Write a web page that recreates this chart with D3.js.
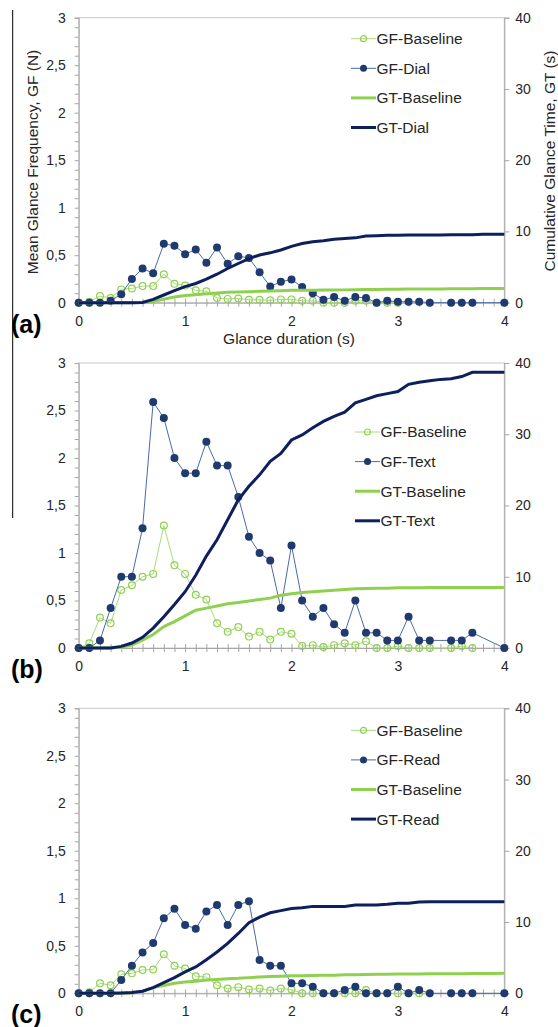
<!DOCTYPE html>
<html lang="en">
  <head>
    <meta charset="utf-8"/>
    <script src="https://d3js.org/d3.v7.min.js"></script>
    <title>Glance frequency and cumulative glance time</title>
  </head>
  <body>
    <div id="chart_div">
      <svg id="chart"></svg>
    </div>
  </body>

  <style>
    body { margin: 0; background: #fff; }
    svg { display: block; font-family: "Liberation Sans", Arial, sans-serif; }
  </style>

  <script>
    // glance duration bins (s)
    const duration = [0, 0.1, 0.2, 0.3, 0.4, 0.5, 0.6, 0.7, 0.8, 0.9,
                      1, 1.1, 1.2, 1.3, 1.4, 1.5, 1.6, 1.7, 1.8, 1.9,
                      2, 2.1, 2.2, 2.3, 2.4, 2.5, 2.6, 2.7, 2.8, 2.9,
                      3, 3.1, 3.2, 3.3, 3.4, 3.5, 3.6, 3.7, 3.8, 3.9, 4];

    const panelLabels = ["(a)", "(b)", "(c)"];
    const taskNames = ["Dial", "Text", "Read"];

    // panel (a)
    const gfBaselineA = [0, 0.01, 0.07, 0.05, 0.14, 0.15, 0.175, 0.175, 0.30, 0.20,
                         0.18, 0.13, 0.12, 0.05, 0.04, 0.045, 0.03, 0.03, 0.025, 0.035,
                         0.035, 0.02, 0.02, 0, 0, 0, 0.02, 0.02, 0, 0,
                         0, null, null, null, null, null, null, null, null, null, null];
    const gfDial = [0, 0, 0, 0.02, 0.09, 0.25, 0.36, 0.31, 0.62, 0.60,
                    0.51, 0.56, 0.42, 0.58, 0.41, 0.49, 0.47, 0.32, 0.17, 0.22,
                    0.245, 0.165, 0.10, 0.03, 0.06, 0.02, 0.06, 0.05, 0, 0.02,
                    0.01, 0.01, 0.01, 0, null, 0, 0, 0, null, null, 0];
    const gtBaselineA = [0, 0, 0, 0, 0, 0, 0.02, 0.15, 0.5, 0.8,
                         1.0, 1.1, 1.26, 1.36, 1.45, 1.5, 1.54, 1.6, 1.64, 1.68,
                         1.73, 1.75, 1.76, 1.77, 1.78, 1.8, 1.82, 1.84, 1.86, 1.88,
                         1.9, 1.91, 1.92, 1.93, 1.94, 1.95, 1.96, 1.97, 1.98, 1.99, 2.0];
    const gtDial = [0, 0, 0, 0, 0, 0, 0.03, 0.47, 1.08, 1.7,
                    2.25, 2.7, 3.3, 4.0, 4.8, 5.5, 6.2, 6.7, 7.0, 7.4,
                    7.9, 8.3, 8.56, 8.7, 8.9, 9.0, 9.1, 9.35, 9.4, 9.45,
                    9.45, 9.5, 9.5, 9.5, 9.5, 9.55, 9.55, 9.55, 9.6, 9.6, 9.6];

    // panel (b)
    const gfBaselineB = [0, 0.05, 0.32, 0.26, 0.61, 0.66, 0.75, 0.78, 1.29, 0.87,
                         0.78, 0.56, 0.51, 0.26, 0.17, 0.22, 0.12, 0.17, 0.09, 0.17,
                         0.15, 0.02, 0.03, 0.01, 0.03, 0.05, 0.03, 0.07, 0, 0,
                         0.02, 0, 0, 0, null, 0, 0.02, 0, null, null, null];
    const gfText = [0, 0, 0.08, 0.42, 0.75, 0.75, 1.26, 2.59, 2.42, 2.00,
                    1.84, 1.84, 2.17, 1.92, 1.92, 1.59, 1.17, 1.00, 0.92, 0.42,
                    1.08, 0.50, 0.33, 0.42, 0.25, 0.16, 0.50, 0.16, 0.16, 0.08,
                    0.08, 0.33, 0.08, 0.08, null, 0.08, 0.08, 0.16, null, null, 0];
    const gtBaselineB = [0, 0, 0, 0, 0.1, 0.4, 1.1, 1.9, 3.0, 3.7,
                         4.5, 5.3, 5.6, 5.9, 6.2, 6.4, 6.6, 6.8, 7.0, 7.4,
                         7.6, 7.8, 7.9, 8.0, 8.1, 8.2, 8.3, 8.35, 8.4, 8.4,
                         8.45, 8.45, 8.45, 8.5, 8.5, 8.5, 8.5, 8.5, 8.5, 8.5, 8.5];
    const gtText = [0, 0, 0, 0, 0.23, 0.7, 1.5, 2.8, 4.4, 6.1,
                    7.9, 10.2, 12.9, 15.2, 18.0, 20.8, 22.7, 24.3, 26.2, 27.3,
                    29.2, 29.9, 30.9, 31.8, 32.5, 33.1, 34.4, 34.9, 35.4, 35.7,
                    36.0, 37.0, 37.3, 37.5, 37.7, 37.8, 38.1, 38.7, 38.7, 38.7, 38.7];

    // panel (c)
    const gfBaselineC = [0, 0.01, 0.105, 0.085, 0.2, 0.21, 0.245, 0.25, 0.41, 0.29,
                         0.26, 0.18, 0.17, 0.085, 0.05, 0.065, 0.04, 0.05, 0.03, 0.05,
                         0.04, 0, 0, 0, 0, 0, 0, 0.035, 0, 0,
                         0, 0, 0, null, null, null, null, null, null, null, null];
    const gfRead = [0, 0, 0, 0, 0.14, 0.29, 0.43, 0.53, 0.79, 0.89,
                    0.72, 0.68, 0.86, 0.93, 0.72, 0.93, 0.97, 0.35, 0.29, 0.29,
                    0.105, 0.105, 0.07, 0, 0, 0.035, 0.07, 0, 0, 0,
                    0.07, 0, 0.035, 0, null, 0, 0, 0, null, null, 0];
    const gtBaselineC = [0, 0, 0, 0, 0, 0.05, 0.3, 0.8, 1.1, 1.4,
                         1.6, 1.7, 1.85, 1.95, 2.05, 2.1, 2.2, 2.3, 2.35, 2.4,
                         2.45, 2.48, 2.5, 2.52, 2.55, 2.6, 2.62, 2.64, 2.66, 2.68,
                         2.7, 2.71, 2.72, 2.73, 2.74, 2.75, 2.76, 2.77, 2.78, 2.79, 2.8];
    const gtRead = [0, 0, 0, 0, 0.05, 0.1, 0.3, 0.8, 1.5, 2.2,
                    3.0, 3.7, 4.7, 5.8, 7.0, 8.4, 9.9, 10.7, 11.3, 11.6,
                    11.9, 12.0, 12.2, 12.2, 12.2, 12.2, 12.4, 12.4, 12.4, 12.5,
                    12.65, 12.65, 12.8, 12.85, 12.85, 12.85, 12.85, 12.85, 12.85, 12.85, 12.85];

    const panels = [
      {label: panelLabels[0], task: taskNames[0], gfBase: gfBaselineA, gf: gfDial, gtBase: gtBaselineA, gt: gtDial, legend: {x: 351, dy: 21}},
      {label: panelLabels[1], task: taskNames[1], gfBase: gfBaselineB, gf: gfText, gtBase: gtBaselineB, gt: gtText, legend: {x: 355, dy: 69}},
      {label: panelLabels[2], task: taskNames[2], gfBase: gfBaselineC, gf: gfRead, gtBase: gtBaselineC, gt: gtRead, legend: {x: 351, dy: 22}}
    ];

    const W = 558, H = 1027;
    const plotLeft = 78.7, plotRight = 504.3;
    const firstTop = 17.7, plotH = 285, panelStep = 345.3;

    const navy = "#1f3a6e", navyLine = "#0d1f5c", navyThin = "#4a6aa8";
    const green = "#8fd14f", greenThin = "#a8dc78";
    const textColor = "#262626", axisColor = "#a6a6a6", gridColor = "#c8c8c8";

    const svg = d3.select("#chart")
      .attr("width", W)
      .attr("height", H);

    const x = d3.scaleLinear().domain([0, 4]).range([plotLeft, plotRight]);
    const comma = d => String(d).replace(".", ",");

    // black vertical rule at the left
    svg.append("line")
      .attr("x1", 12.7).attr("x2", 12.7)
      .attr("y1", 10).attr("y2", 518)
      .style("stroke", "#000").style("stroke-width", 1);

    panels.forEach((p, i) => {
      const top = firstTop + i * panelStep;
      const bottom = top + plotH;
      const y = d3.scaleLinear().domain([0, 3]).range([bottom, top]);
      const y2 = d3.scaleLinear().domain([0, 40]).range([bottom, top]);
      const g = svg.append("g");

      // plot frame
      g.append("rect")
        .attr("x", plotLeft).attr("y", top)
        .attr("width", plotRight - plotLeft).attr("height", plotH)
        .style("fill", "none").style("stroke", gridColor).style("stroke-width", 1);

      // left axis: minor ticks + labels
      const leftAx = g.append("g")
        .attr("transform", "translate(" + plotLeft + ",0)")
        .call(d3.axisLeft(y).tickValues(y.ticks(30)).tickSize(4).tickFormat(""));
      leftAx.select(".domain").style("stroke", axisColor);
      leftAx.selectAll("line").style("stroke", axisColor);
      const leftLab = g.append("g")
        .attr("transform", "translate(" + plotLeft + ",0)")
        .call(d3.axisLeft(y).tickValues(y.ticks(6)).tickSize(0).tickPadding(13).tickFormat(comma));
      leftLab.select(".domain").remove();
      leftLab.selectAll("text")
        .style("font-family", "Liberation Sans, Arial, sans-serif")
        .style("font-size", "14px").style("fill", textColor);

      // right axis
      const rightAx = g.append("g")
        .attr("transform", "translate(" + plotRight + ",0)")
        .call(d3.axisRight(y2).tickValues(y2.ticks(4)).tickSize(5).tickPadding(6));
      rightAx.select(".domain").style("stroke", axisColor);
      rightAx.selectAll("line").style("stroke", axisColor);
      rightAx.selectAll("text")
        .style("font-family", "Liberation Sans, Arial, sans-serif")
        .style("font-size", "14px").style("fill", textColor);

      // bottom axis: crossing ticks every 0.1
      const botAx = g.append("g")
        .attr("transform", "translate(0," + bottom + ")")
        .call(d3.axisBottom(x).tickValues(x.ticks(40)).tickSize(4).tickFormat(""));
      botAx.select(".domain").style("stroke", axisColor);
      botAx.selectAll(".tick line").attr("y1", -4).attr("y2", 4).style("stroke", axisColor);
      const botLab = g.append("g")
        .attr("transform", "translate(0," + bottom + ")")
        .call(d3.axisBottom(x).tickValues(x.ticks(4)).tickSize(0).tickPadding(13).tickFormat(d3.format("d")));
      botLab.select(".domain").remove();
      botLab.selectAll("text")
        .style("font-family", "Liberation Sans, Arial, sans-serif")
        .style("font-size", "14px").style("fill", textColor);

      // panel label
      g.append("text")
        .attr("x", 11).attr("y", bottom + 30)
        .style("font-size", "25px").style("font-weight", "bold").style("fill", "#000")
        .text(p.label);

      const rows = (vals) => duration.map((d, k) => ({x: d, v: vals[k]})).filter(r => r.v !== null);

      // GF-Baseline
      const gfb = rows(p.gfBase);
      g.append("path")
        .datum(gfb)
        .style("fill", "none").style("stroke", greenThin).style("stroke-width", 1)
        .attr("d", d3.line().x(d => x(d.x)).y(d => y(d.v)));
      g.selectAll(".gfb")
        .data(gfb).enter().append("circle")
          .attr("class", "gfb")
          .attr("cx", d => x(d.x)).attr("cy", d => y(d.v)).attr("r", 3.4)
          .style("fill", "none").style("stroke", green).style("stroke-width", 1.2);

      // GF-task
      const gft = rows(p.gf);
      g.append("path")
        .datum(gft)
        .style("fill", "none").style("stroke", navyThin).style("stroke-width", 1)
        .attr("d", d3.line().x(d => x(d.x)).y(d => y(d.v)));
      g.selectAll(".gft")
        .data(gft).enter().append("circle")
          .attr("class", "gft")
          .attr("cx", d => x(d.x)).attr("cy", d => y(d.v)).attr("r", 4)
          .style("fill", navy);

      // GT-Baseline and GT-task on the secondary axis
      g.append("path")
        .datum(rows(p.gtBase))
        .style("fill", "none").style("stroke", green).style("stroke-width", 3)
        .attr("d", d3.line().x(d => x(d.x)).y(d => y2(d.v)));
      g.append("path")
        .datum(rows(p.gt))
        .style("fill", "none").style("stroke", navyLine).style("stroke-width", 3)
        .attr("d", d3.line().x(d => x(d.x)).y(d => y2(d.v)));

      // legend
      const items = [
        {name: "GF-Baseline", kind: "open"},
        {name: "GF-" + p.task, kind: "dot"},
        {name: "GT-Baseline", kind: "thickGreen"},
        {name: "GT-" + p.task, kind: "thickNavy"}
      ];
      const lg = g.append("g")
        .attr("transform", "translate(" + p.legend.x + "," + (top + p.legend.dy) + ")");
      items.forEach((it, k) => {
        const ly = k * 29.6;
        const col = (it.kind === "open" || it.kind === "thickGreen") ? green : navyLine;
        lg.append("line")
          .attr("x1", 0).attr("x2", 25).attr("y1", ly).attr("y2", ly)
          .style("stroke", it.kind === "open" ? greenThin : (it.kind === "dot" ? navyThin : col))
          .style("stroke-width", it.kind.startsWith("thick") ? 3 : 1);
        if (it.kind === "open") {
          lg.append("circle").attr("cx", 12.5).attr("cy", ly).attr("r", 3)
            .style("fill", "none").style("stroke", green).style("stroke-width", 1.2);
        }
        if (it.kind === "dot") {
          lg.append("circle").attr("cx", 12.5).attr("cy", ly).attr("r", 3.5).style("fill", navy);
        }
        lg.append("text")
          .attr("x", 25.5).attr("y", ly).attr("dy", "0.35em")
          .style("font-size", "15.5px").style("fill", textColor)
          .text(it.name);
      });
    });

    // axis titles (first panel)
    svg.append("text")
      .attr("transform", "translate(38,162) rotate(-90)")
      .attr("text-anchor", "middle")
      .style("font-size", "15.5px").style("fill", textColor)
      .text("Mean Glance Frequency, GF (N)");

    svg.append("text")
      .attr("transform", "translate(555,161) rotate(-90)")
      .attr("text-anchor", "middle")
      .style("font-size", "15.5px").style("fill", textColor)
      .text("Cumulative Glance Time, GT (s)");

    svg.append("text")
      .attr("x", 289).attr("y", 344)
      .attr("text-anchor", "middle")
      .style("font-size", "15.5px").style("fill", textColor)
      .text("Glance duration (s)");
  </script>
</html>
